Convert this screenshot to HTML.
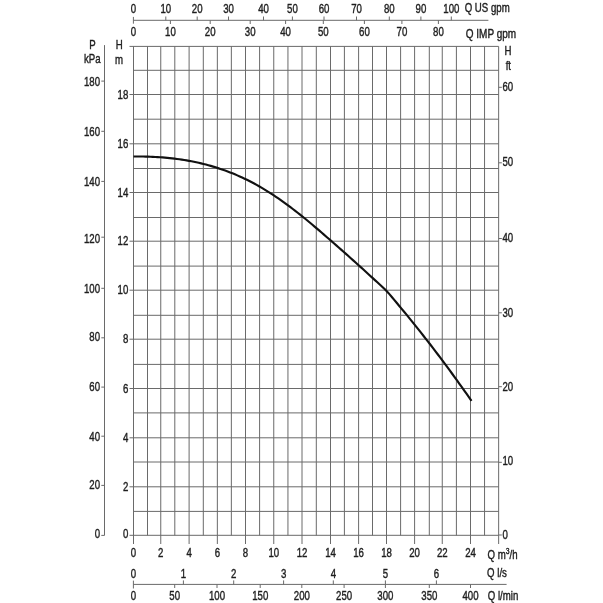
<!DOCTYPE html>
<html><head><meta charset="utf-8"><title>Pump curve</title>
<style>
html,body{margin:0;padding:0;background:#fff;}
svg{display:block;}
text{font-family:"Liberation Sans",Arial,sans-serif;}
</style></head>
<body>
<svg width="603" height="603" viewBox="0 0 603 603">
<rect width="603" height="603" fill="#fff"/>
<line x1="133.50" y1="46.40" x2="133.50" y2="544.00" stroke="#6a6a6a" stroke-width="1"/>
<line x1="147.50" y1="46.40" x2="147.50" y2="535.40" stroke="#6a6a6a" stroke-width="1"/>
<line x1="160.75" y1="46.40" x2="160.75" y2="544.00" stroke="#6a6a6a" stroke-width="1"/>
<line x1="174.80" y1="46.40" x2="174.80" y2="535.40" stroke="#6a6a6a" stroke-width="1"/>
<line x1="189.10" y1="46.40" x2="189.10" y2="544.00" stroke="#6a6a6a" stroke-width="1"/>
<line x1="203.30" y1="46.40" x2="203.30" y2="535.40" stroke="#6a6a6a" stroke-width="1"/>
<line x1="217.35" y1="46.40" x2="217.35" y2="544.00" stroke="#6a6a6a" stroke-width="1"/>
<line x1="231.35" y1="46.40" x2="231.35" y2="535.40" stroke="#6a6a6a" stroke-width="1"/>
<line x1="245.50" y1="46.40" x2="245.50" y2="544.00" stroke="#6a6a6a" stroke-width="1"/>
<line x1="259.60" y1="46.40" x2="259.60" y2="535.40" stroke="#6a6a6a" stroke-width="1"/>
<line x1="273.75" y1="46.40" x2="273.75" y2="544.00" stroke="#6a6a6a" stroke-width="1"/>
<line x1="287.95" y1="46.40" x2="287.95" y2="535.40" stroke="#6a6a6a" stroke-width="1"/>
<line x1="302.00" y1="46.40" x2="302.00" y2="544.00" stroke="#6a6a6a" stroke-width="1"/>
<line x1="316.30" y1="46.40" x2="316.30" y2="535.40" stroke="#6a6a6a" stroke-width="1"/>
<line x1="330.50" y1="46.40" x2="330.50" y2="544.00" stroke="#6a6a6a" stroke-width="1"/>
<line x1="344.40" y1="46.40" x2="344.40" y2="535.40" stroke="#6a6a6a" stroke-width="1"/>
<line x1="358.60" y1="46.40" x2="358.60" y2="544.00" stroke="#6a6a6a" stroke-width="1"/>
<line x1="372.50" y1="46.40" x2="372.50" y2="535.40" stroke="#6a6a6a" stroke-width="1"/>
<line x1="386.50" y1="46.40" x2="386.50" y2="544.00" stroke="#6a6a6a" stroke-width="1"/>
<line x1="400.60" y1="46.40" x2="400.60" y2="535.40" stroke="#6a6a6a" stroke-width="1"/>
<line x1="414.60" y1="46.40" x2="414.60" y2="544.00" stroke="#6a6a6a" stroke-width="1"/>
<line x1="429.30" y1="46.40" x2="429.30" y2="535.40" stroke="#6a6a6a" stroke-width="1"/>
<line x1="442.25" y1="46.40" x2="442.25" y2="544.00" stroke="#6a6a6a" stroke-width="1"/>
<line x1="456.40" y1="46.40" x2="456.40" y2="535.40" stroke="#6a6a6a" stroke-width="1"/>
<line x1="470.50" y1="46.40" x2="470.50" y2="544.00" stroke="#6a6a6a" stroke-width="1"/>
<line x1="484.55" y1="46.40" x2="484.55" y2="535.40" stroke="#6a6a6a" stroke-width="1"/>
<line x1="498.65" y1="46.40" x2="498.65" y2="544.00" stroke="#6a6a6a" stroke-width="1"/>
<line x1="129.50" y1="535.30" x2="498.65" y2="535.30" stroke="#6a6a6a" stroke-width="1"/>
<line x1="133.40" y1="511.40" x2="498.65" y2="511.40" stroke="#6a6a6a" stroke-width="1"/>
<line x1="129.50" y1="486.80" x2="498.65" y2="486.80" stroke="#6a6a6a" stroke-width="1"/>
<line x1="133.40" y1="462.00" x2="498.65" y2="462.00" stroke="#6a6a6a" stroke-width="1"/>
<line x1="129.50" y1="437.80" x2="498.65" y2="437.80" stroke="#6a6a6a" stroke-width="1"/>
<line x1="133.40" y1="412.90" x2="498.65" y2="412.90" stroke="#6a6a6a" stroke-width="1"/>
<line x1="129.50" y1="388.50" x2="498.65" y2="388.50" stroke="#6a6a6a" stroke-width="1"/>
<line x1="133.40" y1="364.40" x2="498.65" y2="364.40" stroke="#6a6a6a" stroke-width="1"/>
<line x1="129.50" y1="339.20" x2="498.65" y2="339.20" stroke="#6a6a6a" stroke-width="1"/>
<line x1="133.40" y1="315.30" x2="498.65" y2="315.30" stroke="#6a6a6a" stroke-width="1"/>
<line x1="129.50" y1="290.20" x2="498.65" y2="290.20" stroke="#6a6a6a" stroke-width="1"/>
<line x1="133.40" y1="266.10" x2="498.65" y2="266.10" stroke="#6a6a6a" stroke-width="1"/>
<line x1="129.50" y1="241.20" x2="498.65" y2="241.20" stroke="#6a6a6a" stroke-width="1"/>
<line x1="133.40" y1="217.50" x2="498.65" y2="217.50" stroke="#6a6a6a" stroke-width="1"/>
<line x1="129.50" y1="192.50" x2="498.65" y2="192.50" stroke="#6a6a6a" stroke-width="1"/>
<line x1="133.40" y1="168.50" x2="498.65" y2="168.50" stroke="#6a6a6a" stroke-width="1"/>
<line x1="129.50" y1="143.80" x2="498.65" y2="143.80" stroke="#6a6a6a" stroke-width="1"/>
<line x1="133.40" y1="119.20" x2="498.65" y2="119.20" stroke="#6a6a6a" stroke-width="1"/>
<line x1="129.50" y1="94.50" x2="498.65" y2="94.50" stroke="#6a6a6a" stroke-width="1"/>
<line x1="133.40" y1="70.30" x2="498.65" y2="70.30" stroke="#6a6a6a" stroke-width="1"/>
<line x1="129.50" y1="46.40" x2="498.65" y2="46.40" stroke="#6a6a6a" stroke-width="1"/>
<line x1="104.50" y1="45.10" x2="104.50" y2="535.40" stroke="#6a6a6a" stroke-width="1"/>
<line x1="101.30" y1="535.40" x2="104.50" y2="535.40" stroke="#6a6a6a" stroke-width="1"/>
<text transform="translate(100.00,537.80) scale(0.79,1)" text-anchor="end" font-size="12.2" fill="#1e1e1e" stroke="#1e1e1e" stroke-width="0.4">0</text>
<line x1="101.30" y1="485.40" x2="104.50" y2="485.40" stroke="#6a6a6a" stroke-width="1"/>
<text transform="translate(100.00,489.00) scale(0.79,1)" text-anchor="end" font-size="12.2" fill="#1e1e1e" stroke="#1e1e1e" stroke-width="0.4">20</text>
<line x1="101.30" y1="436.20" x2="104.50" y2="436.20" stroke="#6a6a6a" stroke-width="1"/>
<text transform="translate(100.00,440.60) scale(0.79,1)" text-anchor="end" font-size="12.2" fill="#1e1e1e" stroke="#1e1e1e" stroke-width="0.4">40</text>
<line x1="101.30" y1="387.10" x2="104.50" y2="387.10" stroke="#6a6a6a" stroke-width="1"/>
<text transform="translate(100.00,390.80) scale(0.79,1)" text-anchor="end" font-size="12.2" fill="#1e1e1e" stroke="#1e1e1e" stroke-width="0.4">60</text>
<line x1="101.30" y1="337.80" x2="104.50" y2="337.80" stroke="#6a6a6a" stroke-width="1"/>
<text transform="translate(100.00,341.40) scale(0.79,1)" text-anchor="end" font-size="12.2" fill="#1e1e1e" stroke="#1e1e1e" stroke-width="0.4">80</text>
<line x1="101.30" y1="288.30" x2="104.50" y2="288.30" stroke="#6a6a6a" stroke-width="1"/>
<text transform="translate(100.00,292.70) scale(0.79,1)" text-anchor="end" font-size="12.2" fill="#1e1e1e" stroke="#1e1e1e" stroke-width="0.4">100</text>
<line x1="101.30" y1="237.20" x2="104.50" y2="237.20" stroke="#6a6a6a" stroke-width="1"/>
<text transform="translate(100.00,242.80) scale(0.79,1)" text-anchor="end" font-size="12.2" fill="#1e1e1e" stroke="#1e1e1e" stroke-width="0.4">120</text>
<line x1="101.30" y1="181.40" x2="104.50" y2="181.40" stroke="#6a6a6a" stroke-width="1"/>
<text transform="translate(100.00,186.30) scale(0.79,1)" text-anchor="end" font-size="12.2" fill="#1e1e1e" stroke="#1e1e1e" stroke-width="0.4">140</text>
<line x1="101.30" y1="131.30" x2="104.50" y2="131.30" stroke="#6a6a6a" stroke-width="1"/>
<text transform="translate(100.00,136.30) scale(0.79,1)" text-anchor="end" font-size="12.2" fill="#1e1e1e" stroke="#1e1e1e" stroke-width="0.4">160</text>
<line x1="101.30" y1="81.10" x2="104.50" y2="81.10" stroke="#6a6a6a" stroke-width="1"/>
<text transform="translate(100.00,86.20) scale(0.79,1)" text-anchor="end" font-size="12.2" fill="#1e1e1e" stroke="#1e1e1e" stroke-width="0.4">180</text>
<text transform="translate(92.40,48.80) scale(0.79,1)" text-anchor="middle" font-size="12.2" fill="#1e1e1e" stroke="#1e1e1e" stroke-width="0.4">P</text>
<text transform="translate(92.20,63.10) scale(0.79,1)" text-anchor="middle" font-size="12.2" fill="#1e1e1e" stroke="#1e1e1e" stroke-width="0.4">kPa</text>
<text transform="translate(128.30,538.00) scale(0.79,1)" text-anchor="end" font-size="12.2" fill="#1e1e1e" stroke="#1e1e1e" stroke-width="0.4">0</text>
<text transform="translate(128.30,490.80) scale(0.79,1)" text-anchor="end" font-size="12.2" fill="#1e1e1e" stroke="#1e1e1e" stroke-width="0.4">2</text>
<text transform="translate(128.30,441.80) scale(0.79,1)" text-anchor="end" font-size="12.2" fill="#1e1e1e" stroke="#1e1e1e" stroke-width="0.4">4</text>
<text transform="translate(128.30,392.50) scale(0.79,1)" text-anchor="end" font-size="12.2" fill="#1e1e1e" stroke="#1e1e1e" stroke-width="0.4">6</text>
<text transform="translate(128.30,343.20) scale(0.79,1)" text-anchor="end" font-size="12.2" fill="#1e1e1e" stroke="#1e1e1e" stroke-width="0.4">8</text>
<text transform="translate(128.30,294.20) scale(0.79,1)" text-anchor="end" font-size="12.2" fill="#1e1e1e" stroke="#1e1e1e" stroke-width="0.4">10</text>
<text transform="translate(128.30,245.20) scale(0.79,1)" text-anchor="end" font-size="12.2" fill="#1e1e1e" stroke="#1e1e1e" stroke-width="0.4">12</text>
<text transform="translate(128.30,196.50) scale(0.79,1)" text-anchor="end" font-size="12.2" fill="#1e1e1e" stroke="#1e1e1e" stroke-width="0.4">14</text>
<text transform="translate(128.30,147.80) scale(0.79,1)" text-anchor="end" font-size="12.2" fill="#1e1e1e" stroke="#1e1e1e" stroke-width="0.4">16</text>
<text transform="translate(128.30,98.50) scale(0.79,1)" text-anchor="end" font-size="12.2" fill="#1e1e1e" stroke="#1e1e1e" stroke-width="0.4">18</text>
<text transform="translate(119.20,48.80) scale(0.79,1)" text-anchor="middle" font-size="12.2" fill="#1e1e1e" stroke="#1e1e1e" stroke-width="0.4">H</text>
<text transform="translate(119.00,63.70) scale(0.79,1)" text-anchor="middle" font-size="12.2" fill="#1e1e1e" stroke="#1e1e1e" stroke-width="0.4">m</text>
<line x1="498.65" y1="535.00" x2="501.85" y2="535.00" stroke="#6a6a6a" stroke-width="1"/>
<text transform="translate(502.50,538.50) scale(0.79,1)" text-anchor="start" font-size="12.2" fill="#1e1e1e" stroke="#1e1e1e" stroke-width="0.4">0</text>
<line x1="498.65" y1="462.30" x2="501.85" y2="462.30" stroke="#6a6a6a" stroke-width="1"/>
<text transform="translate(502.50,464.60) scale(0.79,1)" text-anchor="start" font-size="12.2" fill="#1e1e1e" stroke="#1e1e1e" stroke-width="0.4">10</text>
<line x1="498.65" y1="386.70" x2="501.85" y2="386.70" stroke="#6a6a6a" stroke-width="1"/>
<text transform="translate(502.50,390.90) scale(0.79,1)" text-anchor="start" font-size="12.2" fill="#1e1e1e" stroke="#1e1e1e" stroke-width="0.4">20</text>
<line x1="498.65" y1="312.80" x2="501.85" y2="312.80" stroke="#6a6a6a" stroke-width="1"/>
<text transform="translate(502.50,316.60) scale(0.79,1)" text-anchor="start" font-size="12.2" fill="#1e1e1e" stroke="#1e1e1e" stroke-width="0.4">30</text>
<line x1="498.65" y1="238.50" x2="501.85" y2="238.50" stroke="#6a6a6a" stroke-width="1"/>
<text transform="translate(502.50,241.80) scale(0.79,1)" text-anchor="start" font-size="12.2" fill="#1e1e1e" stroke="#1e1e1e" stroke-width="0.4">40</text>
<line x1="498.65" y1="162.80" x2="501.85" y2="162.80" stroke="#6a6a6a" stroke-width="1"/>
<text transform="translate(502.50,165.50) scale(0.79,1)" text-anchor="start" font-size="12.2" fill="#1e1e1e" stroke="#1e1e1e" stroke-width="0.4">50</text>
<line x1="498.65" y1="87.30" x2="501.85" y2="87.30" stroke="#6a6a6a" stroke-width="1"/>
<text transform="translate(502.50,90.90) scale(0.79,1)" text-anchor="start" font-size="12.2" fill="#1e1e1e" stroke="#1e1e1e" stroke-width="0.4">60</text>
<text transform="translate(508.00,54.90) scale(0.79,1)" text-anchor="middle" font-size="12.2" fill="#1e1e1e" stroke="#1e1e1e" stroke-width="0.4">H</text>
<text transform="translate(508.30,69.50) scale(0.79,1)" text-anchor="middle" font-size="12.2" fill="#1e1e1e" stroke="#1e1e1e" stroke-width="0.4">ft</text>
<line x1="133.40" y1="20.30" x2="488.40" y2="20.30" stroke="#6a6a6a" stroke-width="1"/>
<line x1="133.40" y1="16.90" x2="133.40" y2="23.70" stroke="#6a6a6a" stroke-width="1"/>
<text transform="translate(133.40,13.00) scale(0.79,1)" text-anchor="middle" font-size="12.2" fill="#1e1e1e" stroke="#1e1e1e" stroke-width="0.4">0</text>
<line x1="165.80" y1="16.50" x2="165.80" y2="20.30" stroke="#6a6a6a" stroke-width="1"/>
<text transform="translate(165.80,13.00) scale(0.79,1)" text-anchor="middle" font-size="12.2" fill="#1e1e1e" stroke="#1e1e1e" stroke-width="0.4">10</text>
<line x1="197.20" y1="16.50" x2="197.20" y2="20.30" stroke="#6a6a6a" stroke-width="1"/>
<text transform="translate(197.20,13.00) scale(0.79,1)" text-anchor="middle" font-size="12.2" fill="#1e1e1e" stroke="#1e1e1e" stroke-width="0.4">20</text>
<line x1="228.50" y1="16.50" x2="228.50" y2="20.30" stroke="#6a6a6a" stroke-width="1"/>
<text transform="translate(228.50,13.00) scale(0.79,1)" text-anchor="middle" font-size="12.2" fill="#1e1e1e" stroke="#1e1e1e" stroke-width="0.4">30</text>
<line x1="263.50" y1="16.50" x2="263.50" y2="20.30" stroke="#6a6a6a" stroke-width="1"/>
<text transform="translate(263.50,13.00) scale(0.79,1)" text-anchor="middle" font-size="12.2" fill="#1e1e1e" stroke="#1e1e1e" stroke-width="0.4">40</text>
<line x1="292.40" y1="16.50" x2="292.40" y2="20.30" stroke="#6a6a6a" stroke-width="1"/>
<text transform="translate(292.40,13.00) scale(0.79,1)" text-anchor="middle" font-size="12.2" fill="#1e1e1e" stroke="#1e1e1e" stroke-width="0.4">50</text>
<line x1="324.00" y1="16.50" x2="324.00" y2="20.30" stroke="#6a6a6a" stroke-width="1"/>
<text transform="translate(324.00,13.00) scale(0.79,1)" text-anchor="middle" font-size="12.2" fill="#1e1e1e" stroke="#1e1e1e" stroke-width="0.4">60</text>
<line x1="356.50" y1="16.50" x2="356.50" y2="20.30" stroke="#6a6a6a" stroke-width="1"/>
<text transform="translate(356.50,13.00) scale(0.79,1)" text-anchor="middle" font-size="12.2" fill="#1e1e1e" stroke="#1e1e1e" stroke-width="0.4">70</text>
<line x1="389.30" y1="16.50" x2="389.30" y2="20.30" stroke="#6a6a6a" stroke-width="1"/>
<text transform="translate(389.30,13.00) scale(0.79,1)" text-anchor="middle" font-size="12.2" fill="#1e1e1e" stroke="#1e1e1e" stroke-width="0.4">80</text>
<line x1="420.90" y1="16.50" x2="420.90" y2="20.30" stroke="#6a6a6a" stroke-width="1"/>
<text transform="translate(420.90,13.00) scale(0.79,1)" text-anchor="middle" font-size="12.2" fill="#1e1e1e" stroke="#1e1e1e" stroke-width="0.4">90</text>
<line x1="451.30" y1="16.50" x2="451.30" y2="20.30" stroke="#6a6a6a" stroke-width="1"/>
<text transform="translate(451.30,13.00) scale(0.79,1)" text-anchor="middle" font-size="12.2" fill="#1e1e1e" stroke="#1e1e1e" stroke-width="0.4">100</text>
<text transform="translate(133.40,35.50) scale(0.79,1)" text-anchor="middle" font-size="12.2" fill="#1e1e1e" stroke="#1e1e1e" stroke-width="0.4">0</text>
<line x1="170.40" y1="20.30" x2="170.40" y2="24.00" stroke="#6a6a6a" stroke-width="1"/>
<text transform="translate(170.40,35.50) scale(0.79,1)" text-anchor="middle" font-size="12.2" fill="#1e1e1e" stroke="#1e1e1e" stroke-width="0.4">10</text>
<line x1="210.20" y1="20.30" x2="210.20" y2="24.00" stroke="#6a6a6a" stroke-width="1"/>
<text transform="translate(210.20,35.50) scale(0.79,1)" text-anchor="middle" font-size="12.2" fill="#1e1e1e" stroke="#1e1e1e" stroke-width="0.4">20</text>
<line x1="250.20" y1="20.30" x2="250.20" y2="24.00" stroke="#6a6a6a" stroke-width="1"/>
<text transform="translate(250.20,35.50) scale(0.79,1)" text-anchor="middle" font-size="12.2" fill="#1e1e1e" stroke="#1e1e1e" stroke-width="0.4">30</text>
<line x1="285.60" y1="20.30" x2="285.60" y2="24.00" stroke="#6a6a6a" stroke-width="1"/>
<text transform="translate(285.60,35.50) scale(0.79,1)" text-anchor="middle" font-size="12.2" fill="#1e1e1e" stroke="#1e1e1e" stroke-width="0.4">40</text>
<line x1="323.30" y1="20.30" x2="323.30" y2="24.00" stroke="#6a6a6a" stroke-width="1"/>
<text transform="translate(323.30,35.50) scale(0.79,1)" text-anchor="middle" font-size="12.2" fill="#1e1e1e" stroke="#1e1e1e" stroke-width="0.4">50</text>
<line x1="364.40" y1="20.30" x2="364.40" y2="24.00" stroke="#6a6a6a" stroke-width="1"/>
<text transform="translate(364.40,35.50) scale(0.79,1)" text-anchor="middle" font-size="12.2" fill="#1e1e1e" stroke="#1e1e1e" stroke-width="0.4">60</text>
<line x1="401.90" y1="20.30" x2="401.90" y2="24.00" stroke="#6a6a6a" stroke-width="1"/>
<text transform="translate(401.90,35.50) scale(0.79,1)" text-anchor="middle" font-size="12.2" fill="#1e1e1e" stroke="#1e1e1e" stroke-width="0.4">70</text>
<line x1="438.40" y1="20.30" x2="438.40" y2="24.00" stroke="#6a6a6a" stroke-width="1"/>
<text transform="translate(438.40,35.50) scale(0.79,1)" text-anchor="middle" font-size="12.2" fill="#1e1e1e" stroke="#1e1e1e" stroke-width="0.4">80</text>
<text transform="translate(464.70,12.00) scale(0.79,1)" text-anchor="start" font-size="12.2" fill="#1e1e1e" stroke="#1e1e1e" stroke-width="0.4">Q US gpm</text>
<text transform="translate(465.80,37.60) scale(0.82,1)" text-anchor="start" font-size="12.2" fill="#1e1e1e" stroke="#1e1e1e" stroke-width="0.4">Q IMP gpm</text>
<text transform="translate(133.50,557.30) scale(0.79,1)" text-anchor="middle" font-size="12.2" fill="#1e1e1e" stroke="#1e1e1e" stroke-width="0.4">0</text>
<text transform="translate(160.75,557.30) scale(0.79,1)" text-anchor="middle" font-size="12.2" fill="#1e1e1e" stroke="#1e1e1e" stroke-width="0.4">2</text>
<text transform="translate(189.10,557.30) scale(0.79,1)" text-anchor="middle" font-size="12.2" fill="#1e1e1e" stroke="#1e1e1e" stroke-width="0.4">4</text>
<text transform="translate(217.35,557.30) scale(0.79,1)" text-anchor="middle" font-size="12.2" fill="#1e1e1e" stroke="#1e1e1e" stroke-width="0.4">6</text>
<text transform="translate(245.50,557.30) scale(0.79,1)" text-anchor="middle" font-size="12.2" fill="#1e1e1e" stroke="#1e1e1e" stroke-width="0.4">8</text>
<text transform="translate(273.75,557.30) scale(0.79,1)" text-anchor="middle" font-size="12.2" fill="#1e1e1e" stroke="#1e1e1e" stroke-width="0.4">10</text>
<text transform="translate(302.00,557.30) scale(0.79,1)" text-anchor="middle" font-size="12.2" fill="#1e1e1e" stroke="#1e1e1e" stroke-width="0.4">12</text>
<text transform="translate(330.50,557.30) scale(0.79,1)" text-anchor="middle" font-size="12.2" fill="#1e1e1e" stroke="#1e1e1e" stroke-width="0.4">14</text>
<text transform="translate(358.60,557.30) scale(0.79,1)" text-anchor="middle" font-size="12.2" fill="#1e1e1e" stroke="#1e1e1e" stroke-width="0.4">16</text>
<text transform="translate(386.50,557.30) scale(0.79,1)" text-anchor="middle" font-size="12.2" fill="#1e1e1e" stroke="#1e1e1e" stroke-width="0.4">18</text>
<text transform="translate(414.60,557.30) scale(0.79,1)" text-anchor="middle" font-size="12.2" fill="#1e1e1e" stroke="#1e1e1e" stroke-width="0.4">20</text>
<text transform="translate(442.25,557.30) scale(0.79,1)" text-anchor="middle" font-size="12.2" fill="#1e1e1e" stroke="#1e1e1e" stroke-width="0.4">22</text>
<text transform="translate(470.50,557.30) scale(0.79,1)" text-anchor="middle" font-size="12.2" fill="#1e1e1e" stroke="#1e1e1e" stroke-width="0.4">24</text>
<text transform="translate(487.50,558.60) scale(0.79,1)" text-anchor="start" font-size="12.2" fill="#1e1e1e" stroke="#1e1e1e" stroke-width="0.4">Q m<tspan font-size="8.6" dy="-4.6">3</tspan><tspan dy="4.6">/h</tspan></text>
<line x1="133.40" y1="584.40" x2="506.60" y2="584.40" stroke="#6a6a6a" stroke-width="1"/>
<line x1="133.40" y1="580.60" x2="133.40" y2="588.50" stroke="#6a6a6a" stroke-width="1"/>
<line x1="183.40" y1="580.40" x2="183.40" y2="584.40" stroke="#6a6a6a" stroke-width="1"/>
<line x1="233.70" y1="580.40" x2="233.70" y2="584.40" stroke="#6a6a6a" stroke-width="1"/>
<line x1="283.60" y1="580.40" x2="283.60" y2="584.40" stroke="#6a6a6a" stroke-width="1"/>
<line x1="333.30" y1="580.40" x2="333.30" y2="584.40" stroke="#6a6a6a" stroke-width="1"/>
<line x1="385.40" y1="580.40" x2="385.40" y2="584.40" stroke="#6a6a6a" stroke-width="1"/>
<line x1="436.40" y1="580.40" x2="436.40" y2="584.40" stroke="#6a6a6a" stroke-width="1"/>
<line x1="174.70" y1="584.40" x2="174.70" y2="588.00" stroke="#6a6a6a" stroke-width="1"/>
<line x1="217.00" y1="584.40" x2="217.00" y2="588.00" stroke="#6a6a6a" stroke-width="1"/>
<line x1="260.20" y1="584.40" x2="260.20" y2="588.00" stroke="#6a6a6a" stroke-width="1"/>
<line x1="301.80" y1="584.40" x2="301.80" y2="588.00" stroke="#6a6a6a" stroke-width="1"/>
<line x1="344.10" y1="584.40" x2="344.10" y2="588.00" stroke="#6a6a6a" stroke-width="1"/>
<line x1="385.40" y1="584.40" x2="385.40" y2="588.00" stroke="#6a6a6a" stroke-width="1"/>
<line x1="429.30" y1="584.40" x2="429.30" y2="588.00" stroke="#6a6a6a" stroke-width="1"/>
<line x1="470.50" y1="584.40" x2="470.50" y2="588.00" stroke="#6a6a6a" stroke-width="1"/>
<text transform="translate(133.40,578.40) scale(0.79,1)" text-anchor="middle" font-size="12.2" fill="#1e1e1e" stroke="#1e1e1e" stroke-width="0.4">0</text>
<text transform="translate(183.40,578.40) scale(0.79,1)" text-anchor="middle" font-size="12.2" fill="#1e1e1e" stroke="#1e1e1e" stroke-width="0.4">1</text>
<text transform="translate(233.70,578.40) scale(0.79,1)" text-anchor="middle" font-size="12.2" fill="#1e1e1e" stroke="#1e1e1e" stroke-width="0.4">2</text>
<text transform="translate(283.60,578.40) scale(0.79,1)" text-anchor="middle" font-size="12.2" fill="#1e1e1e" stroke="#1e1e1e" stroke-width="0.4">3</text>
<text transform="translate(333.30,578.40) scale(0.79,1)" text-anchor="middle" font-size="12.2" fill="#1e1e1e" stroke="#1e1e1e" stroke-width="0.4">4</text>
<text transform="translate(385.40,578.40) scale(0.79,1)" text-anchor="middle" font-size="12.2" fill="#1e1e1e" stroke="#1e1e1e" stroke-width="0.4">5</text>
<text transform="translate(436.40,578.40) scale(0.79,1)" text-anchor="middle" font-size="12.2" fill="#1e1e1e" stroke="#1e1e1e" stroke-width="0.4">6</text>
<text transform="translate(133.40,599.70) scale(0.79,1)" text-anchor="middle" font-size="12.2" fill="#1e1e1e" stroke="#1e1e1e" stroke-width="0.4">0</text>
<text transform="translate(174.70,599.70) scale(0.79,1)" text-anchor="middle" font-size="12.2" fill="#1e1e1e" stroke="#1e1e1e" stroke-width="0.4">50</text>
<text transform="translate(217.00,599.70) scale(0.79,1)" text-anchor="middle" font-size="12.2" fill="#1e1e1e" stroke="#1e1e1e" stroke-width="0.4">100</text>
<text transform="translate(260.20,599.70) scale(0.79,1)" text-anchor="middle" font-size="12.2" fill="#1e1e1e" stroke="#1e1e1e" stroke-width="0.4">150</text>
<text transform="translate(301.80,599.70) scale(0.79,1)" text-anchor="middle" font-size="12.2" fill="#1e1e1e" stroke="#1e1e1e" stroke-width="0.4">200</text>
<text transform="translate(344.10,599.70) scale(0.79,1)" text-anchor="middle" font-size="12.2" fill="#1e1e1e" stroke="#1e1e1e" stroke-width="0.4">250</text>
<text transform="translate(385.40,599.70) scale(0.79,1)" text-anchor="middle" font-size="12.2" fill="#1e1e1e" stroke="#1e1e1e" stroke-width="0.4">300</text>
<text transform="translate(429.30,599.70) scale(0.79,1)" text-anchor="middle" font-size="12.2" fill="#1e1e1e" stroke="#1e1e1e" stroke-width="0.4">350</text>
<text transform="translate(470.50,599.70) scale(0.79,1)" text-anchor="middle" font-size="12.2" fill="#1e1e1e" stroke="#1e1e1e" stroke-width="0.4">400</text>
<text transform="translate(487.10,576.80) scale(0.79,1)" text-anchor="start" font-size="12.2" fill="#1e1e1e" stroke="#1e1e1e" stroke-width="0.4">Q l/s</text>
<text transform="translate(487.80,600.00) scale(0.79,1)" text-anchor="start" font-size="12.2" fill="#1e1e1e" stroke="#1e1e1e" stroke-width="0.4">Q l/min</text>
<path d="M133.50,156.46 L135.91,156.45 L138.33,156.46 L140.74,156.48 L143.16,156.51 L145.57,156.56 L147.99,156.63 L150.40,156.72 L152.81,156.82 L155.23,156.95 L157.64,157.09 L160.06,157.25 L162.47,157.43 L164.89,157.63 L167.30,157.85 L169.71,158.09 L172.13,158.35 L174.54,158.64 L176.96,158.95 L179.37,159.28 L181.79,159.63 L184.20,160.01 L186.61,160.42 L189.03,160.84 L191.44,161.30 L193.86,161.78 L196.27,162.28 L198.69,162.82 L201.10,163.38 L203.51,163.96 L205.93,164.58 L208.34,165.23 L210.76,165.90 L213.17,166.60 L215.59,167.34 L218.00,168.10 L220.41,168.90 L222.83,169.72 L225.24,170.58 L227.66,171.48 L230.07,172.40 L232.49,173.36 L234.90,174.35 L237.31,175.38 L239.73,176.44 L242.14,177.54 L244.56,178.67 L246.97,179.84 L249.39,181.04 L251.80,182.29 L254.21,183.57 L256.63,184.89 L259.04,186.25 L261.46,187.64 L263.87,189.08 L266.29,190.55 L268.70,192.06 L271.11,193.61 L273.53,195.19 L275.94,196.80 L278.36,198.45 L280.77,200.13 L283.19,201.85 L285.60,203.59 L288.01,205.36 L290.43,207.17 L292.84,209.00 L295.26,210.85 L297.67,212.74 L300.09,214.65 L302.50,216.58 L304.91,218.54 L307.33,220.52 L309.74,222.52 L312.16,224.54 L314.57,226.57 L316.99,228.62 L319.40,230.69 L321.81,232.76 L324.23,234.85 L326.64,236.95 L329.06,239.05 L331.47,241.15 L333.89,243.26 L336.30,245.38 L338.71,247.50 L341.13,249.63 L343.54,251.76 L345.96,253.90 L348.37,256.04 L350.79,258.19 L353.20,260.35 L355.61,262.51 L358.03,264.69 L360.44,266.86 L362.86,269.05 L365.27,271.25 L367.69,273.45 L370.10,275.67 L372.51,277.89 L374.93,280.12 L377.34,282.30 L379.76,284.46 L382.17,286.68 L384.59,289.02 L387.00,291.50 L389.41,294.15 L391.83,296.94 L394.24,299.85 L396.66,302.80 L399.07,305.70 L401.49,308.59 L403.90,311.50 L406.31,314.43 L408.73,317.37 L411.14,320.34 L413.56,323.33 L415.97,326.33 L418.39,329.36 L420.80,332.40 L423.21,335.47 L425.63,338.55 L428.04,341.66 L430.46,344.78 L432.87,347.92 L435.29,351.08 L437.70,354.26 L440.11,357.46 L442.53,360.69 L444.94,363.92 L447.36,367.18 L449.77,370.46 L452.19,373.76 L454.60,377.08 L457.01,380.41 L459.43,383.77 L461.84,387.14 L464.26,390.54 L466.67,393.95 L469.09,397.38 L471.50,400.83" fill="none" stroke="#111" stroke-width="2.15" stroke-linejoin="round"/>
</svg>
</body></html>
